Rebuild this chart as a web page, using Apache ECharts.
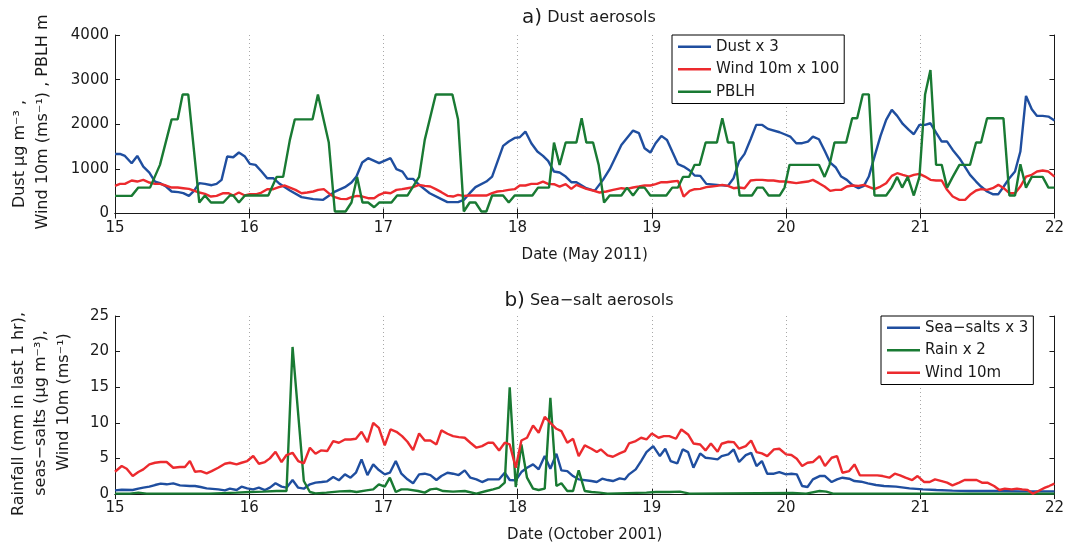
<!DOCTYPE html>
<html>
<head>
<meta charset="utf-8">
<style>
  html, body { margin: 0; padding: 0; background: #fff; }
  #chart { width: 1067px; height: 544px; }
</style>
<script src="https://cdn.jsdelivr.net/npm/echarts@6/dist/echarts.min.js"></script>
</head>
<body>
<div id="chart"></div>
<script>
// ---- Panel a) Dust aerosols, May 2011 (time in days of month) ----
const dustX3 = [
  [15.000,1335],[15.037,1335],[15.074,1290],[15.124,1125],[15.166,1290],[15.211,1050],[15.256,918],
  [15.298,716],[15.335,680],[15.380,605],[15.422,493],[15.472,478],[15.509,455],[15.551,396],
  [15.588,507],[15.628,680],[15.670,664],[15.720,634],[15.757,664],[15.794,754],[15.836,1276],
  [15.881,1261],[15.923,1366],[15.968,1276],[16.005,1112],[16.047,1090],[16.092,940],[16.134,791],
  [16.179,791],[16.221,680],[16.303,515],[16.390,366],[16.477,321],[16.551,306],[16.631,478],
  [16.713,590],[16.762,694],[16.799,828],[16.842,1142],[16.886,1239],[16.968,1127],[17.053,1239],
  [17.097,993],[17.142,940],[17.179,776],[17.221,776],[17.266,642],[17.345,455],[17.432,321],
  [17.477,254],[17.556,254],[17.599,306],[17.643,455],[17.686,590],[17.767,716],[17.810,828],
  [17.892,1515],[17.934,1612],[17.978,1694],[18.016,1709],[18.058,1836],[18.102,1575],[18.147,1388],
  [18.189,1291],[18.227,1179],[18.271,940],[18.313,918],[18.358,828],[18.400,701],[18.438,701],
  [18.512,567],[18.574,507],[18.636,754],[18.686,993],[18.773,1537],[18.860,1858],[18.904,1799],
  [18.946,1463],[18.989,1366],[19.028,1575],[19.071,1739],[19.113,1649],[19.152,1388],[19.195,1104],
  [19.237,1052],[19.282,963],[19.319,851],[19.361,843],[19.406,664],[19.485,642],[19.567,619],
  [19.609,791],[19.649,1164],[19.691,1336],[19.736,1664],[19.778,1985],[19.823,1985],[19.865,1896],
  [19.952,1821],[19.989,1776],[20.031,1724],[20.076,1575],[20.120,1575],[20.163,1612],[20.200,1724],
  [20.245,1664],[20.287,1410],[20.329,1142],[20.369,1037],[20.411,828],[20.453,754],[20.493,642],
  [20.540,567],[20.580,619],[20.617,828],[20.659,1276],[20.704,1739],[20.746,2097],[20.788,2321],
  [20.828,2187],[20.870,2007],[20.915,1873],[20.952,1776],[20.994,1985],[21.036,1985],[21.076,2022],
  [21.118,1813],[21.160,1612],[21.200,1612],[21.242,1425],[21.292,1239],[21.371,866],[21.416,716],
  [21.453,604],[21.498,493],[21.540,433],[21.582,433],[21.622,604],[21.664,791],[21.706,940],
  [21.746,1388],[21.788,2634],[21.831,2336],[21.870,2187],[21.912,2187],[21.955,2172],[22.000,2082]
];

const windX100 = [
  [15.000,619],[15.037,664],[15.074,664],[15.124,739],[15.166,716],[15.211,754],[15.256,694],
  [15.298,664],[15.335,664],[15.380,627],[15.422,582],[15.467,582],[15.509,567],[15.551,552],
  [15.588,515],[15.628,470],[15.670,440],[15.715,380],[15.757,396],[15.807,455],[15.844,455],
  [15.881,403],[15.923,470],[15.968,403],[16.005,433],[16.055,433],[16.092,470],[16.134,545],
  [16.179,545],[16.221,590],[16.266,627],[16.303,582],[16.345,530],[16.390,455],[16.432,470],
  [16.477,493],[16.514,530],[16.556,545],[16.601,433],[16.638,366],[16.680,328],[16.725,321],
  [16.762,366],[16.804,396],[16.844,380],[16.886,343],[16.931,343],[16.968,418],[17.010,470],
  [17.053,455],[17.097,530],[17.139,545],[17.179,567],[17.221,590],[17.266,642],[17.308,619],
  [17.350,604],[17.390,545],[17.432,478],[17.477,396],[17.519,380],[17.556,418],[17.599,396],
  [17.643,403],[17.767,403],[17.810,455],[17.849,493],[17.892,507],[17.934,530],[17.978,545],
  [18.016,627],[18.058,627],[18.102,664],[18.147,664],[18.189,716],[18.227,664],[18.271,657],
  [18.313,604],[18.358,657],[18.400,552],[18.438,642],[18.512,552],[18.562,515],[18.611,470],
  [18.661,493],[18.711,530],[18.773,567],[18.815,552],[18.860,582],[18.904,604],[18.946,627],
  [18.989,627],[19.028,657],[19.071,701],[19.113,701],[19.152,716],[19.195,731],[19.237,380],
  [19.282,507],[19.319,545],[19.361,552],[19.406,590],[19.443,604],[19.485,619],[19.525,642],
  [19.567,619],[19.609,567],[19.649,582],[19.691,567],[19.736,739],[19.778,754],[19.823,754],
  [19.865,739],[19.907,739],[19.952,716],[19.989,716],[20.031,701],[20.076,680],[20.120,701],
  [20.163,716],[20.200,754],[20.245,680],[20.287,604],[20.329,507],[20.369,530],[20.411,530],
  [20.453,604],[20.493,627],[20.540,619],[20.580,642],[20.622,590],[20.659,545],[20.704,604],
  [20.746,680],[20.788,843],[20.828,903],[20.870,866],[20.915,828],[20.952,866],[20.994,888],
  [21.036,828],[21.076,754],[21.118,739],[21.160,739],[21.200,530],[21.242,380],[21.292,306],
  [21.334,306],[21.371,418],[21.416,515],[21.453,545],[21.498,530],[21.540,567],[21.582,642],
  [21.622,567],[21.664,455],[21.706,455],[21.746,604],[21.788,828],[21.831,866],[21.870,940],
  [21.912,963],[21.955,940],[22.000,828]
];

const pblh = [
  [15.000,395],[15.124,395],[15.174,580],[15.261,580],[15.335,1090],[15.422,2110],[15.467,2110],
  [15.504,2665],[15.546,2665],[15.628,246],[15.670,403],[15.715,246],[15.807,246],[15.856,403],
  [15.881,403],[15.923,246],[15.968,403],[16.142,403],[16.204,820],[16.253,820],[16.303,1650],
  [16.340,2110],[16.472,2110],[16.512,2665],[16.593,1590],[16.638,45],[16.718,45],[16.762,246],
  [16.804,820],[16.844,246],[16.886,246],[16.931,140],[16.968,246],[17.060,246],[17.102,403],
  [17.179,403],[17.266,820],[17.308,1650],[17.390,2665],[17.514,2665],[17.556,2110],[17.599,45],
  [17.643,246],[17.686,246],[17.730,45],[17.767,45],[17.810,403],[17.892,403],[17.934,246],
  [17.978,403],[18.110,403],[18.152,580],[18.234,580],[18.271,1590],[18.313,1090],[18.358,1590],
  [18.438,1590],[18.477,2135],[18.512,1590],[18.562,1590],[18.604,1090],[18.644,246],[18.686,403],
  [18.773,403],[18.815,580],[18.860,403],[18.904,580],[18.946,580],[18.989,403],[19.108,403],
  [19.152,580],[19.195,580],[19.232,820],[19.277,820],[19.319,1090],[19.356,1090],[19.401,1590],
  [19.485,1590],[19.525,2135],[19.567,1590],[19.609,1590],[19.654,403],[19.746,403],[19.785,580],
  [19.828,580],[19.870,403],[19.952,403],[19.989,580],[20.026,1090],[20.245,1090],[20.287,820],
  [20.324,1090],[20.361,1590],[20.448,1590],[20.493,2135],[20.530,2135],[20.572,2670],[20.617,2670],
  [20.659,403],[20.746,403],[20.788,580],[20.828,820],[20.865,580],[20.907,820],[20.952,403],
  [20.994,820],[21.036,2665],[21.076,3215],[21.118,1090],[21.160,1090],[21.200,580],[21.242,820],
  [21.292,1090],[21.371,1090],[21.416,1590],[21.453,1590],[21.498,2135],[21.620,2135],[21.664,403],
  [21.706,403],[21.746,1105],[21.788,580],[21.831,820],[21.912,820],[21.955,580],[22.000,580]
];

// ---- Panel b) Sea-salt aerosols, October 2001 ----
const seaSaltsX3 = [
  [15.000,0.51],[15.050,0.60],[15.132,0.56],[15.174,0.75],[15.211,0.89],[15.256,1.03],[15.298,1.26],
  [15.340,1.45],[15.385,1.36],[15.434,1.50],[15.484,1.21],[15.558,1.12],[15.596,1.12],[15.638,0.98],
  [15.683,0.79],[15.769,0.65],[15.819,0.51],[15.856,0.75],[15.906,0.56],[15.943,1.03],[15.985,0.79],
  [16.030,0.65],[16.072,0.89],[16.117,0.56],[16.154,0.89],[16.196,1.50],[16.241,1.03],[16.278,0.89],
  [16.323,1.96],[16.365,0.89],[16.407,0.75],[16.452,1.36],[16.494,1.59],[16.539,1.68],[16.581,1.78],
  [16.626,2.38],[16.668,1.92],[16.713,2.76],[16.755,2.29],[16.795,2.99],[16.837,4.86],[16.881,2.66],
  [16.924,4.16],[16.966,3.36],[17.010,2.76],[17.048,2.99],[17.092,4.63],[17.134,2.85],[17.179,2.06],
  [17.221,1.50],[17.266,2.76],[17.308,2.85],[17.350,2.66],[17.395,1.96],[17.432,2.52],[17.477,2.99],
  [17.519,2.85],[17.561,2.66],[17.606,3.32],[17.648,2.29],[17.693,2.06],[17.735,1.68],[17.780,2.06],
  [17.862,2.06],[17.904,2.99],[17.941,1.96],[17.986,1.92],[18.028,3.08],[18.070,3.69],[18.115,4.16],
  [18.157,3.46],[18.202,5.33],[18.244,3.55],[18.289,5.65],[18.326,3.32],[18.370,3.22],[18.413,2.52],
  [18.455,2.06],[18.550,1.82],[18.590,1.68],[18.630,2.15],[18.670,1.96],[18.710,1.82],[18.760,2.20],
  [18.800,2.06],[18.830,2.76],[18.880,3.46],[18.920,4.63],[18.960,5.89],[19.010,6.73],[19.060,5.33],
  [19.100,6.36],[19.140,4.63],[19.190,4.30],[19.230,6.26],[19.270,5.89],[19.310,3.69],[19.360,5.70],
  [19.400,5.09],[19.440,5.00],[19.490,4.86],[19.520,5.33],[19.570,5.56],[19.610,6.26],[19.650,4.49],
  [19.700,5.47],[19.740,5.79],[19.780,3.93],[19.820,4.63],[19.860,2.85],[19.910,2.85],[19.950,3.08],
  [20.000,2.76],[20.040,2.85],[20.080,2.76],[20.120,1.12],[20.160,0.98],[20.200,2.06],[20.250,2.52],
  [20.290,2.52],[20.340,1.68],[20.380,2.06],[20.420,2.29],[20.470,2.15],[20.510,1.82],[20.560,1.73],
  [20.610,1.50],[20.670,1.26],[20.730,1.12],[20.820,1.03],[20.920,0.79],[21.020,0.65],[21.120,0.56],
  [21.240,0.47],[21.370,0.42],[21.570,0.42],[21.740,0.37],[22.000,0.37]
];

const rainX2 = [
  [15.000,0.05],[15.110,0.05],[15.174,0.19],[15.236,0.05],[15.700,0.05],[15.906,0.19],[16.005,0.28],
  [16.104,0.33],[16.204,0.42],[16.278,0.42],[16.323,20.65],[16.407,1.82],[16.452,0.28],[16.494,0.09],
  [16.576,0.19],[16.675,0.37],[16.750,0.42],[16.800,0.28],[16.874,0.51],[16.924,0.65],[16.966,1.36],
  [17.010,1.03],[17.048,2.29],[17.092,0.28],[17.134,0.65],[17.179,0.65],[17.258,0.42],[17.308,0.19],
  [17.350,0.65],[17.395,0.75],[17.445,0.42],[17.519,0.33],[17.606,0.42],[17.693,0.05],[17.767,0.42],
  [17.817,0.65],[17.862,0.89],[17.904,1.59],[17.941,15.00],[17.986,0.98],[18.028,6.96],[18.070,2.29],
  [18.115,0.75],[18.157,0.56],[18.202,0.75],[18.244,13.50],[18.289,1.12],[18.326,1.50],[18.370,0.42],
  [18.413,0.42],[18.455,3.32],[18.500,0.42],[18.550,0.28],[18.610,0.19],[18.670,0.05],[18.960,0.19],
  [19.030,0.28],[19.130,0.28],[19.210,0.33],[19.280,0.05],[20.050,0.14],[20.150,0.05],[20.250,0.42],
  [20.300,0.33],[20.350,0.05],[22.000,0.05]
];

const wind10m = [
  [15.000,3.13],[15.050,3.93],[15.087,3.55],[15.132,2.52],[15.174,3.08],[15.211,3.46],[15.256,4.16],
  [15.298,4.39],[15.340,4.49],[15.385,4.49],[15.434,3.69],[15.484,3.79],[15.521,3.79],[15.558,4.63],
  [15.596,3.13],[15.638,3.22],[15.683,2.90],[15.720,3.22],[15.769,3.69],[15.819,4.25],[15.856,4.39],
  [15.906,4.16],[15.943,4.39],[15.985,4.63],[16.030,5.33],[16.072,4.25],[16.117,4.49],[16.154,5.00],
  [16.196,5.93],[16.241,4.49],[16.278,5.47],[16.323,5.79],[16.365,4.63],[16.407,4.30],[16.452,6.50],
  [16.494,5.65],[16.534,6.12],[16.581,6.03],[16.626,7.43],[16.668,7.20],[16.713,7.66],[16.755,7.66],
  [16.795,7.76],[16.837,8.74],[16.881,7.29],[16.924,10.00],[16.966,9.30],[17.010,6.82],[17.053,9.07],
  [17.097,8.74],[17.139,8.13],[17.179,7.34],[17.221,6.17],[17.266,8.50],[17.308,7.52],[17.350,7.52],
  [17.395,6.96],[17.432,8.93],[17.477,8.46],[17.519,8.13],[17.561,7.99],[17.606,7.90],[17.648,7.20],
  [17.693,6.50],[17.735,6.73],[17.780,7.20],[17.817,7.20],[17.862,6.12],[17.904,7.20],[17.941,6.96],
  [17.986,3.69],[18.028,7.52],[18.070,7.90],[18.115,9.63],[18.157,8.60],[18.202,10.84],[18.244,10.00],
  [18.289,9.16],[18.326,8.83],[18.370,7.20],[18.413,7.76],[18.455,5.33],[18.500,6.82],[18.550,6.36],
  [18.590,5.89],[18.620,6.26],[18.670,5.42],[18.710,5.23],[18.760,5.70],[18.800,6.03],[18.830,7.10],
  [18.880,7.43],[18.920,7.90],[18.960,7.66],[19.000,8.50],[19.050,7.90],[19.090,8.13],[19.130,8.13],
  [19.180,7.76],[19.220,9.07],[19.270,8.36],[19.310,7.10],[19.360,6.96],[19.400,6.12],[19.440,7.10],
  [19.490,5.93],[19.520,7.06],[19.570,7.34],[19.610,7.29],[19.650,6.36],[19.700,6.73],[19.740,7.52],
  [19.780,5.89],[19.820,5.70],[19.860,5.33],[19.910,6.26],[19.950,6.36],[20.000,5.56],[20.040,5.47],
  [20.080,4.95],[20.120,3.93],[20.160,4.39],[20.200,4.49],[20.250,5.33],[20.290,3.93],[20.340,5.09],
  [20.380,5.33],[20.420,2.99],[20.470,3.22],[20.510,4.16],[20.550,2.62],[20.590,2.62],[20.630,2.62],
  [20.680,2.62],[20.720,2.52],[20.770,2.29],[20.810,2.85],[20.850,2.62],[20.890,2.29],[20.940,1.96],
  [20.980,2.52],[21.030,1.68],[21.070,1.68],[21.110,2.06],[21.160,1.82],[21.200,1.59],[21.240,1.21],
  [21.290,1.59],[21.330,1.96],[21.370,1.96],[21.420,1.96],[21.460,1.59],[21.500,1.59],[21.550,1.12],
  [21.590,0.56],[21.630,0.75],[21.680,0.65],[21.720,0.75],[21.760,0.65],[21.800,0.56],[21.840,0.05],
  [21.880,0.42],[21.930,0.89],[21.960,1.12],[22.000,1.45]
];

// Axis ranges and tick steps
const dayRange = [15, 22];
const dustAxis = { min: 0, max: 4000, step: 1000 };
const seaAxis = { min: 0, max: 25, step: 5 };

const BLUE = '#1f4e9f';
const RED = '#ec2a2e';
const GREEN = '#197a33';
const FONT = 'DejaVu Sans';
const INK = '#1a1a1a';

function lineSeries(name, data, color, gridIdx) {
  return {
    name, type: 'line', data,
    xAxisIndex: gridIdx * 2, yAxisIndex: gridIdx * 2,
    symbol: 'none', showSymbol: false, smooth: false, animation: false,
    lineStyle: { color, width: 2.4 },
    itemStyle: { color }
  };
}

function dayAxis(gridIndex, name) {
  return [
    {
      type: 'value', gridIndex, position: 'bottom',
      min: dayRange[0], max: dayRange[1], interval: 1,
      name, nameLocation: 'middle', nameGap: 34,
      nameTextStyle: { fontFamily: FONT, fontSize: 15, color: INK },
      axisLine: { show: true, lineStyle: { color: INK, width: 1 } },
      axisTick: { show: true, inside: true, length: 5, lineStyle: { color: INK } },
      axisLabel: { fontFamily: FONT, fontSize: 15, color: INK, margin: 7 },
      splitLine: { show: true, lineStyle: { color: '#a8a8a8', type: [1, 3], width: 1 } }
    },
    {
      type: 'value', gridIndex, position: 'top',
      min: dayRange[0], max: dayRange[1], interval: 1,
      axisLine: { show: true, lineStyle: { color: INK, width: 1 } },
      axisTick: { show: true, inside: true, length: 5, lineStyle: { color: INK } },
      axisLabel: { show: false }, splitLine: { show: false }
    }
  ];
}

function valueAxis(gridIndex, r) {
  return [
    {
      type: 'value', gridIndex, position: 'left',
      min: r.min, max: r.max, interval: r.step,
      axisLine: { show: true, lineStyle: { color: INK, width: 1 } },
      axisTick: { show: true, inside: true, length: 5, lineStyle: { color: INK } },
      axisLabel: { fontFamily: FONT, fontSize: 15, color: INK, margin: 6, formatter: (v) => String(v) },
      splitLine: { show: false }
    },
    {
      type: 'value', gridIndex, position: 'right',
      min: r.min, max: r.max, interval: r.step,
      axisLine: { show: true, lineStyle: { color: INK, width: 1 } },
      axisTick: { show: true, inside: true, length: 5, lineStyle: { color: INK } },
      axisLabel: { show: false }, splitLine: { show: false }
    }
  ];
}

function legendBox(names, left, top) {
  return {
    data: names, orient: 'vertical', left, top,
    icon: 'rect', itemWidth: 33, itemHeight: 2.4, itemGap: 7,
    backgroundColor: '#fff', borderColor: '#000', borderWidth: 1, borderRadius: 0,
    padding: [4, 5, 4, 6],
    textStyle: { fontFamily: FONT, fontSize: 15, lineHeight: 15.5, color: INK },
    selectedMode: false
  };
}

function panelTitle(tag, label, top) {
  return {
    text: '{a|' + tag + '} {b|' + label + '}', left: 584, top, textAlign: 'center',
    textStyle: { rich: {
      a: { fontFamily: FONT, fontSize: 20, fontWeight: 'normal', color: INK },
      b: { fontFamily: FONT, fontSize: 16, fontWeight: 'normal', color: INK }
    } }
  };
}

function yName(text, x, y) {
  return {
    type: 'text', x, y, rotation: Math.PI / 2,
    style: { text, font: '16px "DejaVu Sans"', fill: INK, align: 'center', verticalAlign: 'middle' }
  };
}

const chart = echarts.init(document.getElementById('chart'), null, { renderer: 'canvas' });

chart.setOption({
  animation: false,
  backgroundColor: '#fff',
  title: [
    panelTitle('a)', 'Dust aerosols', 3),
    panelTitle('b)', 'Sea\u2212salt aerosols', 286)
  ],
  grid: [
    { left: 115, right: 12, top: 35, bottom: 330.5, show: false },
    { left: 115, right: 12, top: 316, bottom: 49, show: false }
  ],
  xAxis: [
    ...dayAxis(0, 'Date (May 2011)'),
    ...dayAxis(1, 'Date (October 2001)')
  ],
  yAxis: [
    ...valueAxis(0, dustAxis),
    ...valueAxis(1, seaAxis)
  ],
  legend: [
    legendBox(['Dust x 3', 'Wind 10m x 100', 'PBLH'], 672, 35),
    legendBox(['Sea\u2212salts x 3', 'Rain x 2', 'Wind 10m'], 881, 316)
  ],
  graphic: [
    yName('Dust \u00b5g m\u207b\u00b3 ,', 20, 154),
    yName('Wind 10m (ms\u207b\u00b9) , PBLH m', 43, 122),
    yName('Rainfall (mm in last 1 hr),', 19, 414),
    yName('seas\u2212salts (\u00b5g m\u207b\u00b3),', 41, 413),
    yName('Wind 10m (ms\u207b\u00b9)', 64, 402)
  ],
  series: [
    lineSeries('Dust x 3', dustX3, BLUE, 0),
    lineSeries('Wind 10m x 100', windX100, RED, 0),
    lineSeries('PBLH', pblh, GREEN, 0),
    lineSeries('Sea\u2212salts x 3', seaSaltsX3, BLUE, 1),
    lineSeries('Rain x 2', rainX2, GREEN, 1),
    lineSeries('Wind 10m', wind10m, RED, 1)
  ]
});
</script>
</body>
</html>
